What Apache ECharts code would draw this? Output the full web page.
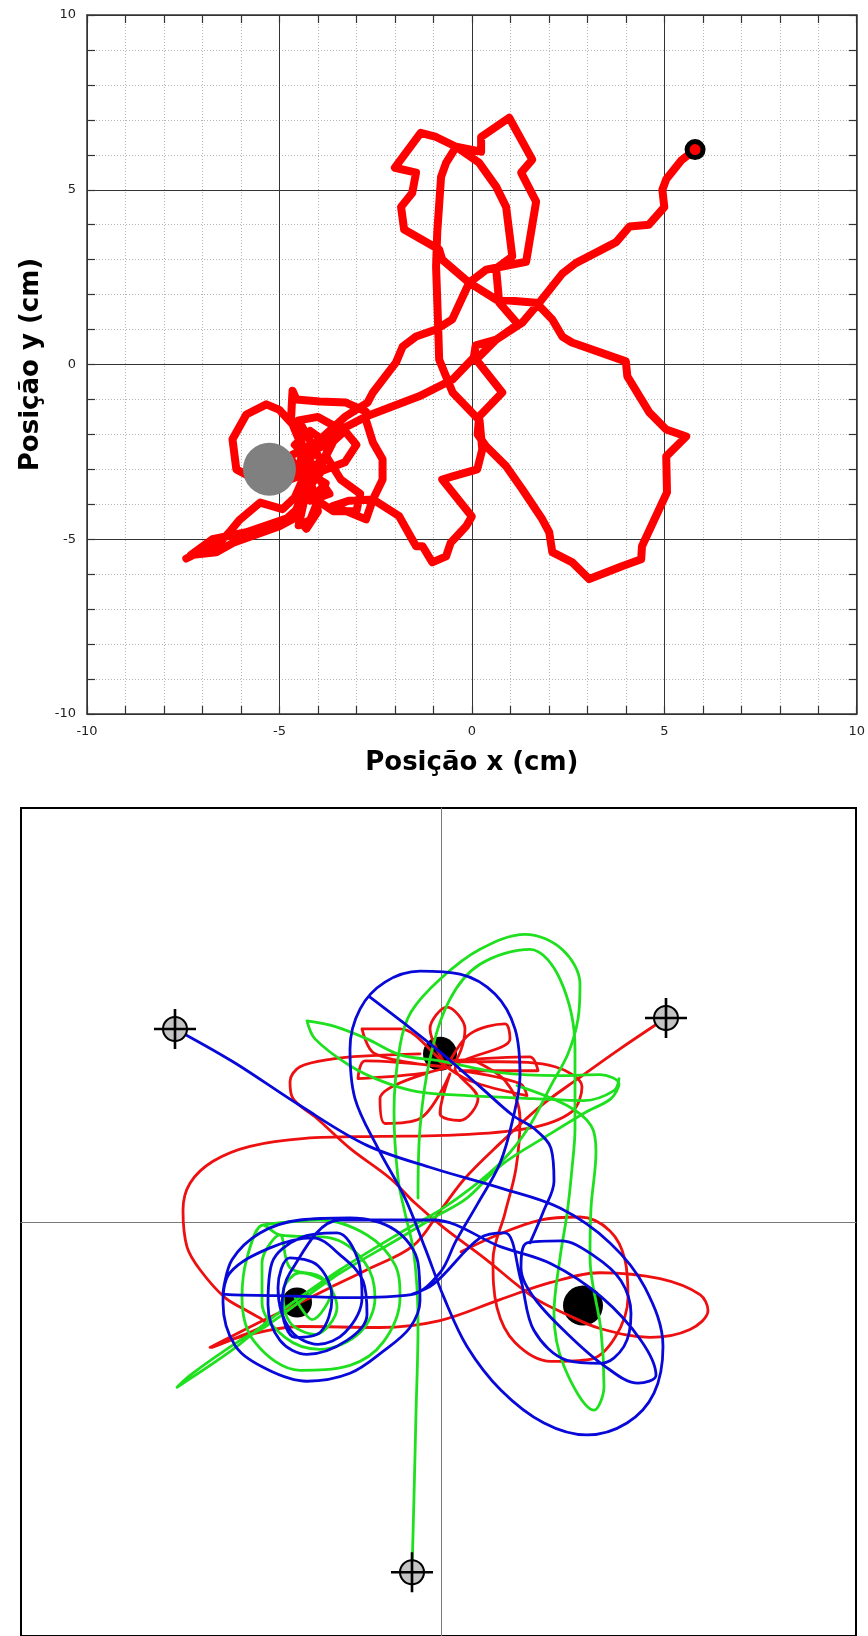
<!DOCTYPE html>
<html><head><meta charset="utf-8">
<script src="https://cdn.jsdelivr.net/npm/echarts@6/dist/echarts.min.js"></script>
<style>html,body{margin:0;padding:0;background:#fff}#c{width:868px;height:1636px}</style>
</head><body><div id="c"></div><script>
// ---------- TOP CHART DATA (cm) ----------
const axisTicks = [-10, -5, 0, 5, 10];
const topRedPath = [
[-7.42,-5.55],[-7.05,-5.35],[-6.64,-5.2],[-6.3,-4.8],[-6.04,-4.45],[-5.5,-3.95],[-4.92,-4.14],[-4.6,-3.8],[-4.4,-3.3],
[-4.2,-2.7],[-4.6,-2.3],[-4.2,-1.9],[-3.7,-2.3],[-3.3,-1.9],[-3.0,-2.3],[-3.3,-2.8],[-3.9,-3.05],[-4.3,-3.6],[-4.5,-4.6],[-4.2,-4.45],[-4.0,-3.9],[-3.6,-4.2],[-3.0,-4.2],[-2.9,-3.7],[-3.4,-3.3],[-3.8,-2.6],[-3.5,-1.8],[-4.0,-1.5],[-4.5,-1.6],
[-4.3,-2.0],[-3.9,-2.8],[-4.4,-3.0],[-3.8,-3.4],[-4.2,-3.9],[-3.7,-3.7],[-4.4,-2.6],[-3.6,-2.2],[-4.1,-3.3],[-4.6,-4.3],[-4.3,-4.7],[-4.0,-4.2],[-4.5,-1.9],
[-5.0,-1.3],[-5.34,-1.14],[-5.86,-1.43],[-6.22,-2.14],[-6.12,-3.0],[-5.6,-3.3],[-5.0,-3.4],[-4.5,-3.2],[-4.4,-2.4],[-4.7,-1.6],[-4.66,-0.75],[-4.56,-1.0],[-3.96,-1.06],[-3.27,-1.09],[-2.75,-1.35],[-2.75,-1.6],[-2.57,-2.23],[-2.32,-2.71],[-2.32,-3.29],[-2.57,-3.86],[-2.75,-4.43],[-3.19,-4.23],[-3.63,-4.06],[-3.2,-3.9],[-2.57,-3.86],
[-1.89,-4.34],[-1.45,-5.2],[-1.28,-5.2],[-1.03,-5.66],[-0.67,-5.49],[-0.55,-5.1],[-0.15,-4.63],[0.0,-4.35],[-0.77,-3.29],[-0.5,-3.2],[0.14,-3.0],[0.27,-2.43],[0.2,-1.6],[-0.5,-0.8],[-0.85,0.14],[-0.87,0.9],[-0.9,1.86],[-0.93,2.8],[-0.9,3.77],[-0.8,5.37],[-0.67,5.77],[-0.41,6.23],[-0.93,6.51],[-1.33,6.63],[-2.0,5.63],[-1.45,5.49],[-1.55,4.91],[-1.84,4.51],[-1.76,3.86],[-0.85,3.29],[-0.77,3.0],[-0.07,2.34],[0.63,1.86],[1.67,1.77],[2.09,1.29],[2.35,0.8],[2.6,0.63],[4.0,0.09],[4.04,-0.34],[4.61,-1.37],[5.05,-1.86],[5.57,-2.06],[5.05,-2.63],[5.07,-3.66],[4.42,-5.2],[4.4,-5.57],[3.9,-5.77],[3.05,-6.14],[2.61,-5.66],[2.09,-5.37],[2.01,-4.8],[1.83,-4.43],[1.31,-3.57],[0.89,-2.91],[0.37,-2.34],[0.15,-2.0],[0.19,-1.49],[0.79,-0.8],[0.11,0.14],[0.63,0.71],[1.2,1.15],[0.71,1.77],[0.63,2.75],[1.05,3.09],[0.89,4.51],[0.63,5.09],[0.19,5.77],[-0.41,6.23],[0.24,6.09],[0.24,6.51],[0.97,7.06],[1.57,5.86],[1.28,5.49],[1.67,4.66],[1.41,2.94],[0.37,2.71],[-0.07,2.34],[-0.51,1.29],[-0.93,1.0],[-1.45,0.8],[-1.8,0.51],[-1.97,0.06],[-2.57,-0.8],[-2.71,-1.09],[-3.3,-1.5],[-3.9,-2.1],[-4.3,-2.9],[-4.4,-4.0],[-4.8,-4.4],[-5.86,-4.8],[-6.74,-5.0],[-7.3,-5.45],[-6.64,-5.37],[-6.2,-5.1],[-5.0,-4.63],[-4.66,-4.43],[-4.3,-3.4],[-4.74,-2.63],[-3.89,-2.14],[-2.75,-1.49],[-1.37,-0.91],[-0.5,-0.43],[0.05,0.2],[0.1,0.55],[0.63,0.71],[1.31,1.2],[1.75,1.77],[2.35,2.6],[2.7,2.9],[3.75,3.5],[4.1,3.95],[4.6,4.0],[5.0,4.5],[4.95,5.0],[5.05,5.3],[5.45,5.85],[5.8,6.15]
];
const topGreyBall = [-5.26, -3.0];
const topEndPoint = [5.8, 6.15];
const xTitle = 'Posição x (cm)';
const yTitle = 'Posição y (cm)';

// ---------- BOTTOM PANEL DATA (panel units, origin at cross lines) ----------
const magnets = [[-1,169],[-144,-81],[142,-84]];
const startPoints = [[-266,194],[225,205],[-29,-352]];
const redA = [[225,205],[179,174],[137,144],[99,116],[59,79],[24,44],[-1,11],[-28,-24],[-74,-48],[-111,-66],[-151,-86],[-184,-102],[-231,-126],[-191,-113],[-141,-105],[-61,-106],[-1,-99],[59,-78],[109,-61],[159,-51],[219,-57],[259,-73],[267,-89],[249,-108],[209,-116],[159,-107],[126,-93],[93,-76],[43,-36],[3,-6],[-26,19],[-51,44],[-91,74],[-124,104],[-148,124],[-151,141],[-141,156],[-108,164],[-74,167],[-21,169]];
const redB = [[29,164],[64,142],[79,104],[75,54],[64,9],[52,-38],[56,-86],[74,-121],[110,-140],[149,-138],[174,-116],[187,-76],[184,-38],[169,-9],[139,5],[99,2],[54,-14],[20,-30]];
const redD = [[-1,161],[59,161],[114,156],[141,136],[131,111],[87,94],[3,87],[-61,86],[-136,84],[-191,76],[-228,61],[-251,39],[-258,12],[-254,-25],[-241,-48],[-216,-76],[-191,-91],[-176,-101],[-209,-118],[-229,-126]];
const redE = [[4,159],[-11,194],[6,216],[24,194],[9,159],[-41,194],[-79,194],[-66,169],[4,156],[-76,162],[-83,144],[-21,149],[9,156],[-61,124],[-56,99],[-21,104],[9,149],[-1,109],[19,102],[37,124],[14,154],[69,184],[64,199],[29,189],[9,162],[89,166],[97,152],[19,152],[79,139],[86,127],[29,142],[-1,161]];
const greenA = [[-29,-352],[-27,-276],[-25,-192],[-23,-106],[-24,-66],[-28,-26],[-36,9],[-43,44],[-47,111],[-41,177],[-30,211],[-1,244],[39,274],[84,289],[121,274],[139,239],[137,204],[127,169],[111,139],[87,94],[60,60],[30,34],[-1,12],[-36,-8],[-101,-48],[-166,-94],[-208,-128],[-264,-166],[-251,-154],[-201,-119],[-174,-104],[-108,-56],[-41,-16],[-8,4],[26,24],[60,57],[110,89],[146,111],[170,124],[178,139],[159,148],[119,147],[59,150],[-1,162],[-41,168],[-74,184],[-108,197],[-134,202],[-126,184],[-91,157],[-58,141],[-24,131],[26,127],[93,124],[143,122],[173,132],[178,144]];
const greenB = [[76,137],[126,117],[150,97],[155,71],[150,14],[149,-36],[160,-109],[163,-165],[153,-189],[123,-145],[113,-92],[119,-36],[126,8],[131,54],[134,94],[134,174],[119,244],[89,274],[39,259],[9,224],[-11,164],[-21,94],[-23,24]];
const greenC = [[-178,-3],[-121,2],[-74,-13],[-46,-43],[-41,-76],[-58,-121],[-91,-144],[-141,-149],[-186,-121],[-199,-76],[-194,-36],[-178,-3],[-161,-13],[-111,-16],[-76,-41],[-66,-76],[-81,-111],[-121,-128],[-156,-116],[-179,-81],[-179,-41],[-161,-13],[-151,-46],[-119,-56],[-104,-86],[-126,-113],[-151,-101],[-158,-71],[-141,-51],[-109,-68],[-129,-98],[-146,-76]];
const blueA = [[-266,194],[-208,161],[-141,117],[-74,77],[-8,54],[60,34],[119,14],[169,-21],[204,-66],[222,-125],[213,-172],[186,-202],[146,-214],[103,-202],[60,-169],[26,-125],[3,-76],[-16,-26],[-36,24],[-63,74],[-86,124],[-91,174],[-81,214],[-56,241],[-21,252],[19,249],[54,229],[74,194],[79,147],[72,104],[59,59],[37,19],[15,-19],[-1,-51],[-30,-73],[-91,-76],[-161,-74],[-218,-72],[-209,-38],[-181,-11],[-141,2],[-91,4],[-46,-8],[-23,-41],[-21,-79],[-31,-106],[-58,-130],[-91,-152],[-134,-160],[-174,-148],[-206,-124],[-218,-81],[-211,-51],[-171,-26],[-128,-16],[-101,-33],[-78,-59],[-74,-93],[-94,-119],[-134,-133],[-161,-119],[-173,-83],[-169,-41],[-141,-16],[-104,-11],[-83,-38],[-79,-76],[-96,-111],[-123,-123],[-151,-108],[-163,-66],[-151,-36],[-123,-44],[-109,-76],[-121,-111],[-146,-116],[-159,-86],[-151,-51],[-101,2],[-8,2],[60,-25],[110,-42],[160,-75],[200,-119],[215,-154],[197,-162],[164,-145],[126,-112],[93,-76],[80,-46],[86,-21],[120,-19],[153,-34],[180,-59],[190,-92],[183,-125],[160,-142],[126,-139],[93,-109],[80,-59],[64,-11],[39,-16],[-7,-62],[-30,-73]];
const blueD = [[-71,226],[-36,199],[-1,171],[39,136],[72,107],[93,94],[110,74],[113,41],[103,12],[89,-21]];
const magnetSizes = [34, 30, 40];

// ---------- OPTIONS ----------
const FONT = 'DejaVu Sans';
const dark = '#333333';
function frameAxis(extra) {
  return Object.assign({
    type: 'value', gridIndex: 0,
    min: axisTicks[0], max: axisTicks[axisTicks.length - 1], interval: axisTicks[1] - axisTicks[0],
    axisLine: { show: true, onZero: false, lineStyle: { color: dark, width: 1.5 } },
    axisTick: { show: true, inside: true, length: 8, lineStyle: { color: dark, width: 1.2 } },
    minorTick: { show: true, splitNumber: 5, length: 8, lineStyle: { color: dark, width: 1.2 } },
    splitLine: { show: false }, minorSplitLine: { show: false },
    axisLabel: { show: false }
  }, extra);
}
const labelStyle = { show: true, fontSize: 13, color: '#222', fontFamily: FONT, margin: 11 };
const titleStyle = { fontSize: 26, fontWeight: 'bold', color: '#000', fontFamily: FONT };

const hiddenAxis = (idx, min, max) => ({
  type: 'value', gridIndex: idx, min: min, max: max,
  axisLine: { show: true, onZero: true, lineStyle: { color: '#7a7a7a', width: 1 } },
  axisTick: { show: false }, axisLabel: { show: false }, splitLine: { show: false }
});

const lineSeries = (data, color, width, z, smooth) => ({
  type: 'line', xAxisIndex: 2, yAxisIndex: 2, data: data, symbol: 'none', smooth: smooth,
  lineStyle: { color: color, width: width, join: 'round', cap: 'round' }, z: z, silent: true
});

const option = {
  animation: false,
  backgroundColor: '#ffffff',
  grid: [
    { left: 87, top: 15, width: 770, height: 699, show: false },
    { left: 21, top: 808, width: 835, height: 832, show: true, borderColor: '#000', borderWidth: 2, backgroundColor: 'transparent' }
  ],
  xAxis: [
    frameAxis({ position: 'bottom', axisLabel: labelStyle,
      splitLine: { show: true, lineStyle: { color: dark, width: 1 } },
      minorSplitLine: { show: true, lineStyle: { color: '#b5b5b5', width: 1, type: [1, 2] } },
      name: xTitle, nameLocation: 'middle', nameGap: 36, nameTextStyle: titleStyle }),
    frameAxis({ position: 'top' }),
    hiddenAxis(1, -420, 415)
  ],
  yAxis: [
    frameAxis({ position: 'left', axisLabel: labelStyle,
      splitLine: { show: true, lineStyle: { color: dark, width: 1 } },
      minorSplitLine: { show: true, lineStyle: { color: '#b5b5b5', width: 1, type: [1, 2] } },
      name: yTitle, nameLocation: 'middle', nameGap: 36, nameRotate: 90, nameTextStyle: titleStyle }),
    frameAxis({ position: 'right' }),
    hiddenAxis(1, -416, 416)
  ],
  series: [
    { type: 'line', xAxisIndex: 0, yAxisIndex: 0, data: topRedPath, symbol: 'none',
      lineStyle: { color: '#ff0000', width: 8, join: 'round', cap: 'round' }, z: 3, silent: true },
    { type: 'scatter', xAxisIndex: 0, yAxisIndex: 0, data: [topGreyBall], symbolSize: 53,
      itemStyle: { color: '#808080', opacity: 1 }, z: 4, silent: true },
    { type: 'scatter', xAxisIndex: 0, yAxisIndex: 0, data: [topEndPoint], symbolSize: 16,
      itemStyle: { color: '#ff0000', borderColor: '#000', borderWidth: 5, opacity: 1 }, z: 5, silent: true },

    { type: 'scatter', xAxisIndex: 2, yAxisIndex: 2, z: 1, silent: true,
      data: magnets.map((m, i) => ({ value: m, symbolSize: magnetSizes[i] })),
      itemStyle: { color: '#000', opacity: 1 } },
    lineSeries(redD, '#ee1010', 2.8, 2, 0.35),
    lineSeries(redA, '#ee1010', 2.8, 2, 0.35),
    lineSeries(redB, '#ee1010', 2.8, 2, 0.35),
    lineSeries(redE, '#ee1010', 2.8, 2, 0.35),
    lineSeries(greenA, '#1fe01f', 2.8, 3, 0.35),
    lineSeries(greenB, '#1fe01f', 2.8, 3, 0.35),
    lineSeries(greenC, '#1fe01f', 2.8, 3, 0.35),
    lineSeries(blueD, '#0808d8', 2.8, 4, 0.35),
    lineSeries(blueA, '#0808d8', 2.8, 4, 0.35),
    { type: 'scatter', xAxisIndex: 2, yAxisIndex: 2, data: startPoints, symbolSize: 24, z: 6, silent: true,
      itemStyle: { color: '#c4c4c4', borderColor: '#000', borderWidth: 2, opacity: 1 } },
    { type: 'scatter', xAxisIndex: 2, yAxisIndex: 2, data: startPoints, z: 7, silent: true,
      symbol: 'path://M15,0h2v32h-2zM0,15h32v2h-32z', symbolSize: [42, 40],
      itemStyle: { color: '#000', opacity: 1 } }
  ]
};
const chart = echarts.init(document.getElementById('c'), null, { renderer: 'canvas' });
chart.setOption(option);
</script></body></html>
